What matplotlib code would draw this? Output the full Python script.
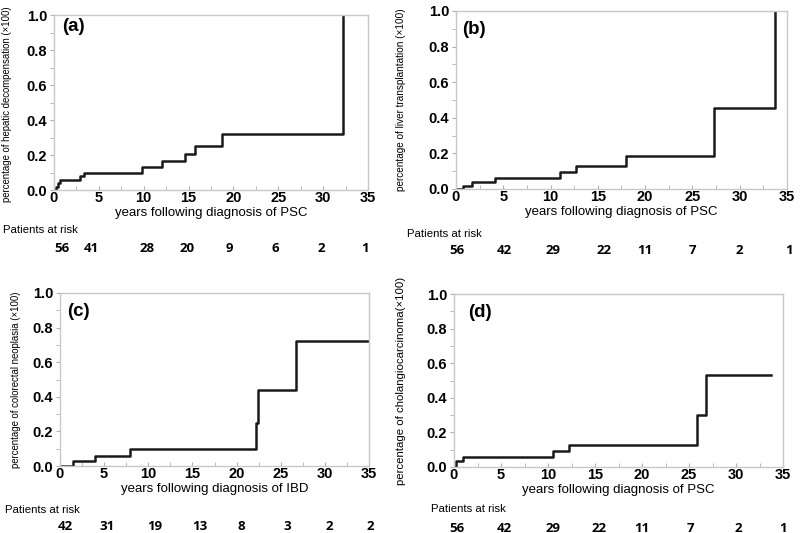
import matplotlib
matplotlib.use('Agg')
import matplotlib.pyplot as plt
from matplotlib.ticker import MultipleLocator
from matplotlib.transforms import blended_transform_factory

# Cumulative incidence step data (years, fraction)
a_years = [0.15, 0.25, 0.45, 0.7, 2.85, 3.35, 9.8, 12.05, 14.55, 15.75, 18.75, 32.25]
a_vals = [0.0, 0.019, 0.038, 0.057, 0.078, 0.099, 0.132, 0.167, 0.208, 0.250, 0.318, 1.0]

b_years = [0.0, 0.75, 1.65, 4.1, 11.0, 12.7, 17.95, 27.25, 33.75]
b_vals = [0.0, 0.019, 0.038, 0.060, 0.094, 0.130, 0.185, 0.456, 1.0]
b_end = 33.75

c_years = [0.0, 1.5, 4.0, 7.95, 22.2, 22.4, 26.75]
c_vals = [0.0, 0.027, 0.058, 0.097, 0.251, 0.440, 0.720]
c_end = 35.0

d_years = [0.1, 0.2, 1.0, 10.5, 12.25, 25.9, 26.85]
d_vals = [0.0, 0.035, 0.056, 0.091, 0.126, 0.300, 0.534]
d_end = 33.7

a_risk = [56, 41, 28, 20, 9, 6, 2, 1]
b_risk = [56, 42, 29, 22, 11, 7, 2, 1]
c_risk = [42, 31, 19, 13, 8, 3, 2, 2]
d_risk = [56, 42, 29, 22, 11, 7, 2, 1]

a_ylabel = 'percentage of hepatic decompensation (\u00d7100)'
b_ylabel = 'percentage of liver transplantation (\u00d7100)'
c_ylabel = 'percentage of colorectal neoplasia (\u00d7100)'
d_ylabel = 'percentage of cholangiocarcinoma(\u00d7100)'

# layout
W, H = 800, 533
fig = plt.figure(figsize=(8, 5.33), dpi=100)
sans = ['Liberation Sans', 'DejaVu Sans']


def px(x0, y0, x1, y1):
    return [x0 / W, 1 - y1 / H, (x1 - x0) / W, (y1 - y0) / H]


def panel(rect, years, vals, end, tag, tag_xy, xlabel, ylabel, ylab_size,
          ylab_xy, risk, risk_x, risk_y, par_xy):
    ax = fig.add_axes(px(*rect))
    xs = list(years)
    ys = list(vals)
    if end is not None:
        xs.append(end)
        ys.append(vals[-1])
    ax.step(xs, ys, where='post', color='#1a1a1a', lw=1.8)
    ax.set_xlim(0, 35)
    ax.set_ylim(0, 1.0)
    ax.xaxis.set_major_locator(MultipleLocator(5))
    ax.xaxis.set_minor_locator(MultipleLocator(2.5))
    ax.yaxis.set_minor_locator(MultipleLocator(0.1))
    ax.set_yticks([0, 0.2, 0.4, 0.6, 0.8, 1.0])
    ax.set_yticklabels(['0.0', '0.2', '0.4', '0.6', '0.8', '1.0'])
    for s in ax.spines.values():
        s.set_color('#c8c8c8')
        s.set_linewidth(1.0)
    ax.tick_params(axis='y', which='both', direction='out', color='#b0b0b0',
                   length=3, pad=2)
    ax.tick_params(axis='x', which='both', direction='in', color='#b0b0b0',
                   length=3, pad=1)
    for lab in ax.get_xticklabels() + ax.get_yticklabels():
        lab.set_fontfamily(sans)
        lab.set_fontweight('bold')
        lab.set_fontsize(10.5)
    ax.set_xlabel(xlabel, fontsize=9.5, family=sans, labelpad=1)
    ax.set_ylabel(ylabel, fontsize=ylab_size, family=sans)
    ax.yaxis.set_label_coords(*ylab_xy)
    ax.text(tag_xy[0], tag_xy[1], tag, transform=ax.transAxes, fontsize=13.5,
            fontweight='bold', family=sans, va='top', ha='left')
    fig.text(par_xy[0] / W, 1 - par_xy[1] / H, 'Patients at risk',
             fontsize=8.2, family=sans, va='center', ha='left')
    tr = blended_transform_factory(ax.transData, fig.transFigure)
    for xv, n in zip(risk_x, risk):
        ax.text(xv, 1 - risk_y / H, str(n), transform=tr, fontsize=9.5,
                fontweight='bold', family=['Open Sans'] + sans,
                ha='center', va='center', clip_on=False)
    return ax


panel((54, 15, 368, 190), a_years, a_vals, None, '(a)', (0.025, 0.985),
      'years following diagnosis of PSC', a_ylabel, 6.9, (-0.135, 0.49),
      a_risk, [0.9, 4.2, 10.4, 14.8, 19.5, 24.7, 29.8, 34.7], 248, (3, 230))
panel((456, 11, 787, 189), b_years, b_vals, b_end, '(b)', (0.02, 0.945),
      'years following diagnosis of PSC', b_ylabel, 7.2, (-0.15, 0.5),
      b_risk, [0.1, 5.1, 10.3, 15.6, 20.0, 25.0, 30.0, 35.2], 250, (407, 234))
panel((60, 293, 369, 466), c_years, c_vals, c_end, '(c)', (0.023, 0.945),
      'years following diagnosis of IBD', c_ylabel, 6.9, (-0.125, 0.5),
      c_risk, [0.6, 5.3, 10.7, 15.8, 20.5, 25.7, 30.5, 35.1], 527, (5, 510))
panel((454, 294, 783, 467), d_years, d_vals, d_end, '(d)', (0.043, 0.94),
      'years following diagnosis of PSC', d_ylabel, 8.2, (-0.145, 0.5),
      d_risk, [0.3, 5.4, 10.5, 15.4, 20.0, 25.1, 30.2, 35.0], 528, (431, 509))

fig.savefig('out.png', dpi=100)
